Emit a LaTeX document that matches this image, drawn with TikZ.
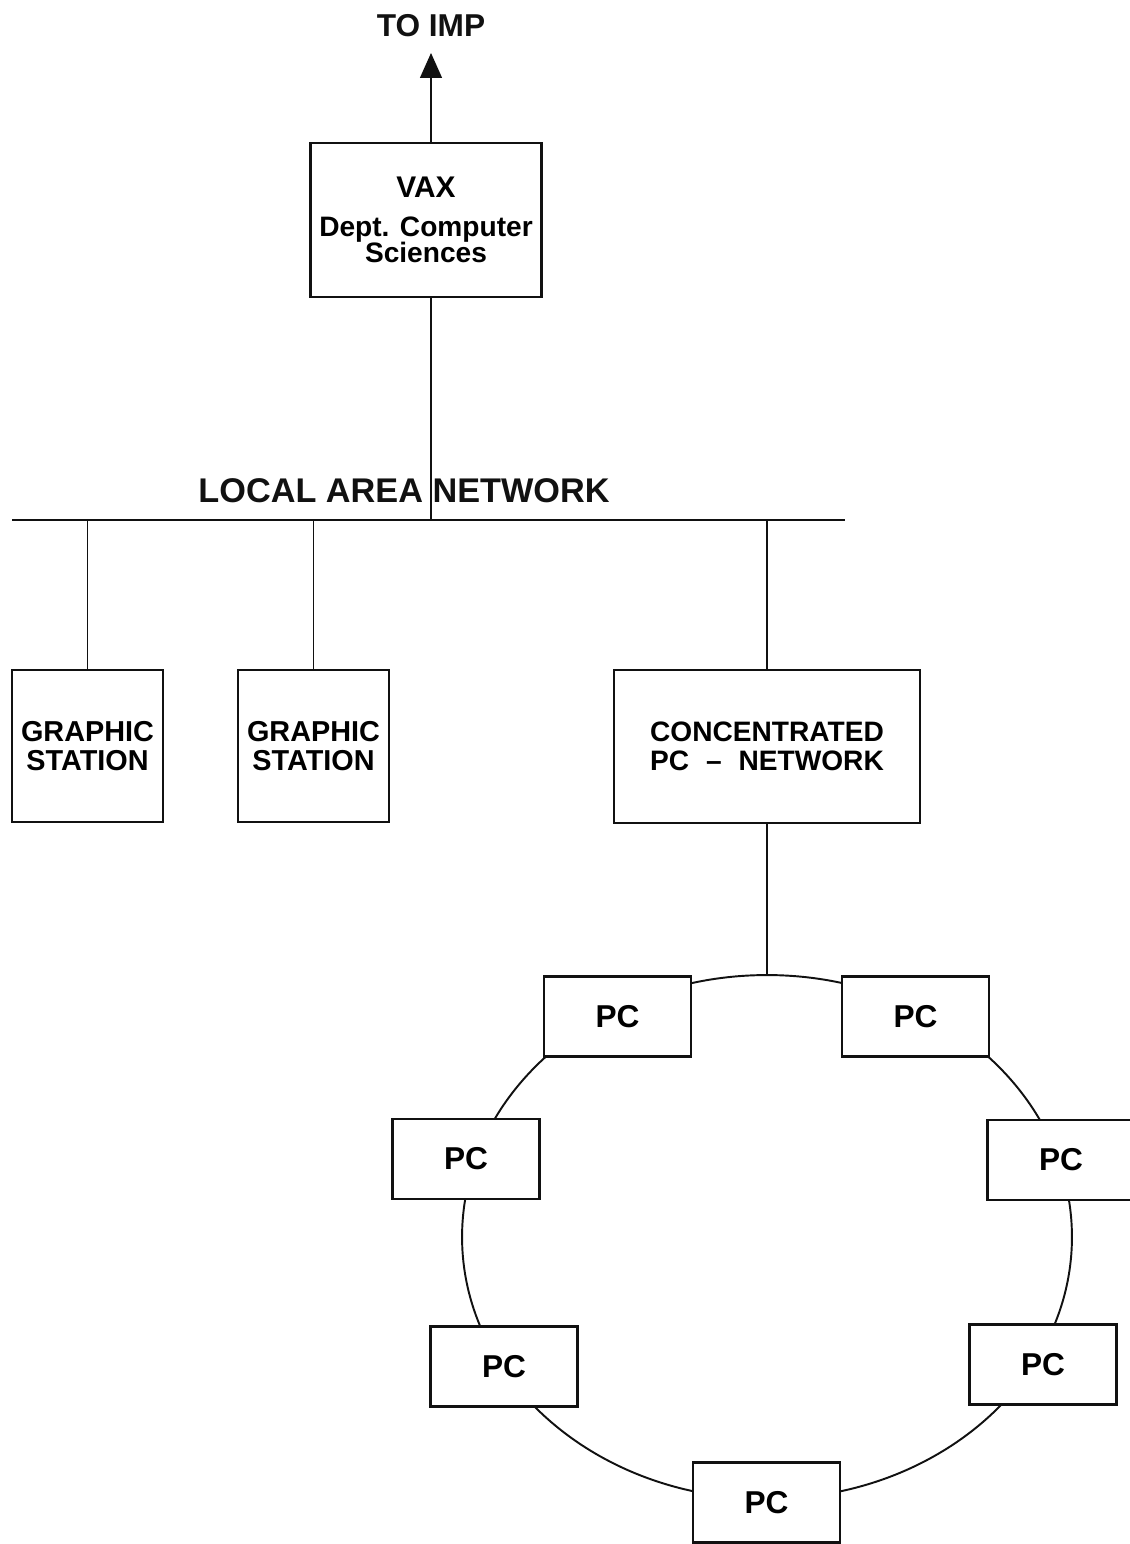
\documentclass[tikz,border=0pt]{standalone}
\usepackage{fontspec}
\setmainfont{Liberation Sans}
\usepackage{xcolor}
\definecolor{plot-ink}{HTML}{111111}
\usepackage{tikz}
\usetikzlibrary{arrows.meta}

\tikzset{
    box/.style={draw=plot-ink, line width=1.3pt, rectangle, align=center, inner sep=0pt},
    station-box/.style={box, minimum width=3.02cm, minimum height=3.04cm, font=\fontsize{16.4}{16.4}\selectfont\bfseries},
    pc-box/.style={box, fill=white, minimum width=2.94cm, minimum height=1.6cm, font=\fontsize{18}{18}\selectfont\bfseries},
    caption/.style={anchor=base, inner sep=0pt, text=plot-ink, font=\fontsize{19.5}{19.5}\selectfont\bfseries},
    link/.style={draw=plot-ink, line width=0.8pt},
    trunk/.style={draw=plot-ink, line width=1.1pt},
}

\begin{document}
\begin{tikzpicture}[x=0.02cm, y=-0.02cm]

    \useasboundingbox (0, 0) rectangle (1129, 1544);

    % Host
    \node[caption, font=\fontsize{18}{18}\selectfont\bfseries] (imp) at (431, 37) {TO IMP};
    \coordinate (imptip) at (431, 53);
    \node[box, minimum width=4.62cm, minimum height=3.08cm, font=\fontsize{16}{15}\selectfont\bfseries] (vax) at (426, 220)
        {{\fontsize{17}{17}\selectfont VAX}\\[7pt]Dept. Computer\\Sciences};
    \draw[link, -{Triangle[length=5mm, width=4.4mm]}] (vax.north -| imptip) -- (imptip);

    % Local area network
    \node[caption] (lan) at (404, 502) {LOCAL AREA NETWORK};
    \coordinate (lanL) at (12, 520);
    \coordinate (lanR) at (845, 520);
    \draw[draw=plot-ink, line width=1.6pt] (lanL) -- (lanR);
    \draw[trunk] (vax.south -| imptip) -- (imptip |- lanL);

    % Stations
    \node[station-box] (gs1) at (87.5, 746) {GRAPHIC\\STATION};
    \node[station-box] (gs2) at (313.5, 746) {GRAPHIC\\STATION};
    \node[station-box, minimum width=6.12cm, minimum height=3.06cm, font=\fontsize{16}{16.4}\selectfont\bfseries] (conc) at (767, 746.5)
        {CONCENTRATED\\PC\hspace{0.6em}--\hspace{0.6em}NETWORK};

    \draw[link] (gs1.north) -- (gs1.north |- lanL);
    \draw[link] (gs2.north) -- (gs2.north |- lanL);
    \draw[link] (conc.north) -- (conc.north |- lanL);

    % Ring
    \coordinate (ringc) at (767, 1237);
    \coordinate (ringtop) at (767, 975);
    \draw[trunk] (conc.south) -- (ringtop);
    \draw[trunk] (ringc) ellipse [x radius=6.1cm, y radius=5.24cm];

    \node[pc-box] (pc1) at (617.5, 1016.5) {PC};
    \node[pc-box] (pc2) at (915.5, 1016.5) {PC};
    \node[pc-box] (pc3) at (466, 1159) {PC};
    \node[pc-box] (pc4) at (1061, 1160) {PC};
    \node[pc-box] (pc5) at (504, 1366.5) {PC};
    \node[pc-box] (pc6) at (1043, 1364.5) {PC};
    \node[pc-box] (pc7) at (766.5, 1502.5) {PC};

\end{tikzpicture}
\end{document}
